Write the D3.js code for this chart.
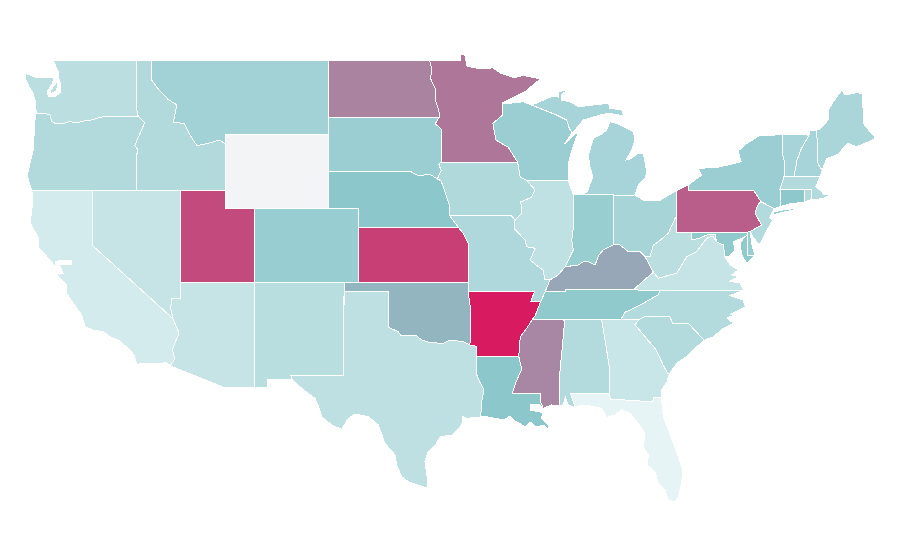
<!DOCTYPE html>
<html>
<head>
<meta charset="utf-8">
<script src="https://d3js.org/d3.v7.min.js"></script>
<style>
  body { margin: 0; background: #fff; }
  path { stroke: #fff; stroke-width: 1; shape-rendering: crispEdges; }
</style>
</head>
<body>
<svg id="map" width="900" height="560"></svg>
<script>
// State names and the value read off the colour of each one (null = no data)
var states = ["WA","OR","ID","MT","WY","CA","NV","UT","CO","AZ","NM","ND","SD","NE","KS","OK","TX","MN","IA","MO","AR","LA","WI","IL","MI","IN","OH","KY","TN","MS","AL","GA","FL","SC","NC","VA","WV","PA","NY","NJ","DE","MD","CT","RI","MA","VT","NH","ME"];
var values = [19,23,23,30,null,8.5,14.5,83.5,34,14.5,20,63.5,33,39.5,87.4,46,18,68,24,24.5,100,39,33,17,27.7,33.6,28,51,37,62,22.5,13.6,1,22.5,22.5,14.5,19,76.5,33,22.5,34,37,38,22.5,22.5,27.7,27.7,26];

var colorStops = [0, 40, 100];
var colorRange = ["#e8f5f6", "#8ac6ca", "#d81b60"];
var noDataColor = "#f3f4f6";

// Shared borders, [lon, lat]
var waOr = [[-123.82,46.15],[-123.2,46.15],[-122.85,46.05],[-122.78,45.72],[-122.45,45.57],[-122.05,45.58],[-121.55,45.7],[-121.1,45.62],[-120.6,45.73],[-120.1,45.78],[-119.5,45.92],[-119,46],[-116.92,46]];
var waId = [[-117.03,49],[-117.04,46.42],[-116.92,46]];
var orId = [[-116.92,46],[-116.47,45.65],[-116.85,44.95],[-117.15,44.4],[-116.95,44.2],[-117.03,43.8],[-117.03,42]];
var idMt = [[-116.05,49],[-116.05,48],[-115.6,47.5],[-114.9,46.9],[-114.3,46.6],[-114.55,45.65],[-113.8,45.6],[-113.4,44.95],[-112.95,44.4],[-112.3,44.5],[-111.4,44.7],[-111.05,44.5]];
var caNv = [[-120,42],[-120,39],[-114.57,35.05]];
var nvAz = [[-114.04,37],[-114.04,36.15],[-114.65,36.13],[-114.72,35.6],[-114.57,35.05]];
var caAz = [[-114.57,35.05],[-114.15,34.27],[-114.6,33.4],[-114.45,32.85],[-114.75,32.5]];
var redRiver = [[-100,34.58],[-99.34,34.34],[-99.18,34.16],[-98.6,34.14],[-98.1,34.11],[-97.76,33.89],[-97.2,33.75],[-96.3,33.71],[-95.85,33.89],[-94.95,33.8],[-94.5,33.62]];
var sabine = [[-94.04,33],[-94.04,32],[-93.82,31.6],[-93.55,31.2],[-93.7,30.6],[-93.73,30.1],[-93.82,29.73]];
var arTn = [[-89.7,36],[-89.95,35.5],[-90.1,35.2],[-90.3,34.98]];
var arMs = [[-90.3,34.98],[-90.6,34.6],[-91.1,34.05],[-91.2,33]];
var laMs = [[-91.2,33],[-91,32.3],[-91.4,31.6],[-91.65,31],[-89.75,31],[-89.75,30.6],[-89.55,30.2]];
var msAl = [[-88.2,34.98],[-88.1,34.9],[-88.45,31.9],[-88.42,30.35]];
var alGa = [[-85.6,34.98],[-85.4,34],[-85.05,32.3],[-85.1,31]];
var flGa = [[-85.1,31],[-85,30.7],[-82.2,30.55],[-82.05,30.8],[-81.65,30.8],[-81.55,30.65]];
var gaSc = [[-83.05,35],[-83.35,34.72],[-82.8,34.2],[-82.55,33.95],[-81.95,33.4],[-81.45,32.55],[-81.15,32.1],[-81,32.1]];
var ncSc = [[-83.05,35],[-82.7,35.15],[-81,35.15],[-80.8,34.8],[-79.75,34.8],[-78.68,33.88]];
var tnNc = [[-81.68,36.57],[-81.75,36.35],[-82.4,36.05],[-83.2,35.7],[-84,35.4],[-84.32,34.98]];
var illKy = [[-89.09,37.14],[-88.53,37.41],[-88.07,37.85]];
var inKy = [[-88.07,37.85],[-87.18,37.95],[-86.86,38.11],[-86.5,38.12],[-86.05,37.95],[-85.78,38.49],[-85.49,38.76],[-84.82,39.03]];
var ohKy = [[-84.82,39.03],[-84.36,39.03],[-83.8,38.67],[-83.01,38.67],[-82.67,38.4]];
var ohWv = [[-80.52,40.64],[-80.65,40.45],[-81.1,39.66],[-81.77,39.2],[-82.11,39.02],[-82.33,38.4],[-82.67,38.4]];
var kyVa = [[-83.46,36.6],[-82.9,37],[-82.11,37.56]];
var kyWv = [[-82.11,37.56],[-82.67,38.4]];
var vaWv = [[-82.11,37.56],[-81.77,37.23],[-80.53,37.5],[-79.85,38.39],[-79.18,38.66],[-78.5,39.39],[-78.28,39.46],[-78.06,39.46],[-77.83,39.2]];
var mdVa = [[-77.83,39.2],[-77.38,39.03],[-77.27,38.4]];
var wabash = [[-87.53,41.76],[-87.53,39.9],[-87.62,39.29],[-87.52,38.76],[-87.74,38.4],[-88.07,37.85]];
var ilMo = [[-89.09,37.14],[-89.43,37.14],[-89.55,37.66],[-90.43,38.2],[-90.1,38.85],[-90.66,38.93],[-90.78,39.3],[-91.52,39.93],[-91.45,40.38]];
var ilIa = [[-91.45,40.38],[-91.05,40.7],[-91,41.1],[-91.1,41.35],[-90.35,41.6],[-90.1,42],[-90.64,42.5]];
var neSd = [[-104.05,43],[-98.5,43],[-98,42.77],[-97.2,42.85],[-96.7,42.6],[-96.45,42.49]];
var neIa = [[-96.45,42.49],[-96.1,41.7],[-95.9,41.2],[-95.85,40.6]];
var sdMn = [[-96.56,45.94],[-96.85,45.58],[-96.45,45.3],[-96.45,43.5]];
var sdIa = [[-96.45,43.5],[-96.6,43.4],[-96.45,43.05],[-96.7,42.6],[-96.45,42.49]];
var ndMn = [[-97.23,49],[-97.1,48.6],[-97.15,48],[-96.85,47.5],[-96.85,46.9],[-96.6,46.3],[-96.56,45.94]];
var wiMn = [[-92.3,46.7],[-92.3,46.05],[-92.95,45.6],[-92.75,44.7],[-91.9,44.3],[-91.28,43.5]];
var miWi = [[-90.33,46.59],[-88.64,46.05],[-87.96,45.78],[-87.79,45.34],[-87.6,45.1]];
var paNj = [[-75.57,39.75],[-74.8,40.11],[-75.24,40.75],[-75.04,41.2],[-74.84,41.37]];

function rev(a) { return a.slice().reverse(); }

// One list of rings per state, same order as `states`
var outlines = [
  // WA, with Kitsap as its own ring
  [[[-122.65,49]].concat(waId, rev(waOr), [[-123.82,46.32],[-123.89,46.86],[-124.02,47.24],[-124.29,47.57],[-124.5,47.95],[-124.56,48.32],[-123.89,48.11],[-123.55,48.05],[-123.08,48.11],[-122.6,48.05],[-122.74,47.73],[-123.04,47.35],[-122.99,47.03],[-122.54,47.03],[-122.15,47.3],[-122.2,47.84],[-122.33,48.16],[-122.31,48.38]]),
   [[-122.47,47.95],[-122.34,47.68],[-122.47,47.35],[-122.87,47.19],[-122.87,47.35],[-122.54,47.68]]],
  [waOr.concat(orId, [[-124.11,42],[-124.29,42.43],[-124.41,42.81],[-124.22,43.46],[-124.02,44.1],[-123.95,44.97],[-123.89,45.78]])],
  [[[-117.03,49]].concat(idMt, [[-111.05,42],[-117.03,42]], rev(orId), rev(waId))],
  [[[-116.05,49],[-104.05,49],[-104.05,45],[-111.05,45],[-111.05,44.5]].concat(rev(idMt))],
  [[[-111.05,45],[-104.05,45],[-104.05,41],[-111.05,41]]],
  [caNv.concat(caAz, [[-114.99,32.66],[-115.67,32.63],[-117.02,32.59],[-117.2,33.08],[-117.58,33.44],[-118.26,33.89],[-118.82,34.07],[-119.27,34.34],[-119.95,34.43],[-120.51,34.61],[-120.73,35.24],[-121.3,35.88],[-121.75,36.42],[-121.75,36.87],[-122.33,37.35],[-122.47,37.78],[-122.25,37.45],[-122,37.5],[-122.25,38],[-121.41,38],[-121.41,38.18],[-122.47,38.16],[-122.55,37.9],[-123,38.32],[-123.66,38.92],[-123.68,39.46],[-124.02,39.95],[-124.22,40.22],[-124.02,41.46],[-124.11,42]])],
  [[[-120,42],[-114.04,42]].concat(nvAz, rev(caNv))],
  [[[-114.04,42],[-111.05,42],[-111.05,41],[-109.05,41],[-109.05,37],[-114.04,37]]],
  [[[-109.05,41],[-102.05,41],[-102.05,37],[-109.05,37]]],
  [[[-114.04,37],[-109.05,37],[-109.05,31.33],[-111.1,31.33]].concat(rev(caAz), rev(nvAz))],
  [[[-109.05,37],[-103,37],[-103.05,32],[-106.6,32],[-106.53,31.78],[-108.2,31.78],[-108.2,31.33],[-109.05,31.33]]],
  [[[-104.05,49]].concat(ndMn, [[-104.05,45.94]])],
  [[[-104.05,45.94]].concat(sdMn, sdIa, rev(neSd))],
  [neSd.concat(neIa, [[-95.3,40],[-102.05,40],[-102.05,41],[-104.05,41]])],
  [[[-102.05,40],[-95.3,40],[-94.95,39.66],[-94.62,39.1],[-94.62,37],[-102.05,37]]],
  [[[-103,37],[-94.62,37],[-94.62,36.5],[-94.43,35.4]].concat(rev(redRiver), [[-100,36.5],[-103,36.5]])],
  [[[-103,36.5],[-100,36.5]].concat(redRiver, [[-94.04,33.55]], sabine, [[-94.72,29.66],[-94.97,29.75],[-95.06,29.3],[-95.65,28.76],[-96.52,28.66],[-96.75,28.32],[-97.33,27.85],[-97.54,27.31],[-97.42,26.7],[-97.33,25.88],[-98.66,26.23],[-99.11,26.5],[-99.45,27.13],[-99.56,27.68],[-100.24,28.31],[-100.69,29.3],[-101.37,29.75],[-102.27,29.89],[-102.72,29.66],[-103.16,29.06],[-103.84,29.3],[-104.52,29.75],[-104.68,30.2],[-104.97,30.74],[-105.87,31.28],[-106.53,31.78],[-106.6,32],[-103.05,32]])],
  [[[-95.15,49],[-95.15,49.35],[-94.85,49.33],[-94.7,48.7],[-93.8,48.55],[-92.95,48.6],[-92.4,48.3],[-91.5,48.07],[-90.9,48.2],[-89.75,48],[-90.8,47.3]].concat(wiMn, [[-96.45,43.5]], rev(sdMn), rev(ndMn))],
  [[[-96.45,43.5],[-91.28,43.5],[-91.1,42.7]].concat(rev(ilIa), [[-91.7,40.6]], rev(neIa), rev(sdIa))],
  [[[-95.85,40.6],[-91.7,40.6]].concat(rev(ilMo), [[-89.42,36.5],[-89.7,36],[-90.37,36],[-90.15,36.5],[-94.62,36.5],[-94.62,39.1],[-94.95,39.66],[-95.3,40]])],
  [[[-94.62,36.5],[-90.15,36.5],[-90.37,36]].concat(arTn, arMs, [[-94.04,33],[-94.04,33.55],[-94.5,33.62],[-94.43,35.4]])],
  [[[-94.04,33]].concat(laMs, [[-89.75,30.38],[-90.43,30.38],[-90.43,30.1],[-89.77,30],[-89.54,29.93],[-89.7,29.68],[-89.2,29.3],[-89.2,29.03],[-89.5,29.3],[-90.04,29.19],[-90.38,29.46],[-90.78,29.21],[-91.57,29.57],[-91.79,29.78],[-92.24,29.57],[-93.4,29.75]], rev(sabine))],
  [[[-92.3,46.7],[-91.7,46.7],[-90.89,46.77]].concat(miWi, [[-88.1,44.5],[-87.15,45.2],[-87.65,44.07],[-87.85,43.44],[-87.85,42.5],[-90.64,42.5],[-91.1,42.7]], rev(wiMn))],
  [[[-90.64,42.5],[-87.85,42.5]].concat(wabash, rev(illKy), ilMo, ilIa)],
  [rev(miWi).concat([[-88.89,47.08],[-88.55,47.03],[-88.55,47.31],[-87.87,47.41],[-88.3,47.19],[-88.28,46.86],[-87.74,46.77],[-87.18,46.5],[-85.15,46.69],[-85.04,46.42],[-84.25,46.32],[-84.14,46.05],[-83.68,45.96],[-85.15,46.15],[-85.71,46.05],[-86.84,45.78],[-87.4,45.24]]),
   [[-86.9,41.76],[-86.57,41.9],[-86.2,42.72],[-86.39,43.26],[-86.5,43.89],[-86.16,44.79],[-85.71,44.97],[-85.26,45.24],[-85.04,45.69],[-84.58,45.6],[-83.46,45.15],[-83.35,44.7],[-83.57,44.16],[-83.95,43.62],[-83.57,43.71],[-83.23,43.95],[-82.78,43.98],[-82.55,42.99],[-82.67,42.63],[-83.12,42.27],[-83.35,41.73],[-84.82,41.7],[-84.82,41.76]]],
  [[[-87.53,41.76],[-84.82,41.76]].concat(rev(inKy), rev(wabash))],
  [[[-84.82,41.7],[-83.35,41.73],[-82.8,41.45],[-81.65,41.45],[-80.52,41.98]].concat(ohWv, rev(ohKy))],
  [[[-89.42,36.5],[-88.05,36.5],[-88.05,36.62]].concat(kyVa, kyWv.slice(1), rev(ohKy), rev(inKy), rev(illKy))],
  [[[-89.42,36.5],[-88.05,36.5],[-88.05,36.62],[-83.46,36.6]].concat(tnNc, [[-85.6,34.98],[-88.2,34.98]], rev(arTn))],
  [[[-90.3,34.98]].concat(msAl, [[-89,30.38]], rev(laMs), rev(arMs))],
  [alGa.concat([[-87.7,31],[-87.4,30.29],[-87.85,30.35],[-88.05,30.8],[-88.2,30.4]], rev(msAl))],
  [[[-85.6,34.98]].concat(gaSc, [[-81.2,31.6],[-81.55,31.19]], rev(flGa), rev(alGa))],
  [flGa.concat([[-81.44,29.75],[-81,28.85],[-80.42,27.58],[-80.12,26.87],[-80.19,26.15],[-80.42,25.42],[-80.64,25.15],[-81.1,25.24],[-81.32,25.78],[-81.77,26.15],[-82,26.77],[-82.52,27.13],[-82.45,27.68],[-82.79,28.12],[-82.67,28.85],[-83.12,29.39],[-83.69,29.93],[-84.25,30.11],[-84.7,29.84],[-85.26,29.71],[-85.6,30.2],[-86.73,30.38],[-87.4,30.29],[-87.7,31]])],
  [ncSc.concat([[-79.29,33.44],[-79.85,33],[-80.53,32.63]], rev(gaSc))],
  [[[-81.68,36.57],[-76.14,36.54],[-76.93,36.3],[-76.03,36.05],[-75.9,35.69],[-76.93,35.25],[-76.4,35.32],[-77.15,35.08],[-76.7,34.8],[-77.38,34.52],[-78.05,34.07]].concat(rev(ncSc), [[-84.32,34.98]], rev(tnNc))],
  [kyVa.concat(vaWv.slice(1), mdVa.slice(1), [[-76.93,37.95],[-76.37,37.68],[-76.81,37.41],[-76.37,37.31],[-76.93,37.07],[-76.25,36.97],[-76.02,36.6],[-76.14,36.54],[-81.68,36.57]])],
  [[[-80.52,40.64],[-80.52,39.72],[-79.52,39.72],[-79.52,39.3],[-78.96,39.4],[-78.41,39.6],[-77.94,39.6]].concat(rev(vaWv), kyWv.slice(1), rev(ohWv).slice(1))],
  [[[-80.52,41.98],[-80.52,39.72],[-75.76,39.72]].concat(paNj, [[-75.35,42],[-79.76,42],[-79.76,42.27]])],
  [[[-79.76,42.27],[-79.76,42],[-75.35,42],[-74.84,41.37],[-73.95,41],[-73.55,41.1],[-73.55,42.04],[-73.27,42.75],[-73.25,43.55],[-73.4,44],[-73.35,45],[-74.97,44.92],[-75.77,44.53],[-76.37,44.12],[-76.18,43.53],[-77.72,43.23],[-79.07,43.17],[-78.84,42.81]],
   [[-74.11,40.65],[-72.2,41.01],[-73.21,40.95],[-73.95,40.81]]],
  [paNj.concat([[-73.95,41],[-74.11,40.7],[-74.25,40.5],[-74.05,40.4],[-74.22,40.12],[-74.7,39.41],[-74.95,39.03],[-75.37,39.47]])],
  [[[-75.76,39.72],[-75.57,39.75],[-75.44,39.03],[-75.25,38.48],[-75.72,38.48]]],
  [[[-79.52,39.72],[-75.76,39.72],[-75.72,38.48],[-75.25,38.48],[-75.8,38.04],[-76.14,38.49],[-76.25,39.12],[-75.91,39.48],[-76.7,39.2],[-76.59,38.76],[-77.05,38.4]].concat(rev(mdVa), [[-77.94,39.6],[-78.41,39.6],[-78.96,39.4],[-79.52,39.3]])],
  [[[-73.55,42.04],[-71.91,42.04],[-71.91,41.34],[-72.9,41.25],[-73.55,41.1]]],
  [[[-71.91,42.04],[-71.45,42.04],[-71.4,41.5],[-71.91,41.34]]],
  [[[-73.55,42.04],[-73.27,42.75],[-72.6,42.73],[-71.3,42.72],[-70.85,42.72],[-71.12,42.18],[-70.73,41.91],[-70.62,41.73],[-70.17,41.73],[-70.62,41.55],[-71.3,41.46],[-71.4,41.5],[-71.45,42.04],[-71.91,42.04]]],
  [[[-73.27,42.75],[-73.25,43.55],[-73.4,44],[-73.35,45],[-71.6,44.97],[-71.64,44.88],[-72.1,44.25],[-72.4,43.62],[-72.6,42.73]]],
  [[[-72.6,42.73],[-72.4,43.62],[-72.1,44.25],[-71.64,44.88],[-71.6,44.97],[-71.5,45.24],[-71.07,45.24],[-70.98,43.4],[-70.7,43.07],[-70.85,42.72],[-71.3,42.72]]],
  [[[-71.07,45.24],[-70.85,45.28],[-70.3,45.78],[-70.3,46.32],[-69.95,46.77],[-69.38,47.4],[-69.16,47.13],[-68.37,47.26],[-67.96,47.22],[-67.92,45.6],[-67.47,45.15],[-67.07,44.79],[-67.58,44.61],[-68.37,44.34],[-68.94,44.52],[-69.7,43.9],[-70.4,43.7],[-70.7,43.07],[-70.98,43.4]]]
];

var x = d3.scaleLinear().domain([-111.05, -104.05]).range([225, 328.6]);
var y = d3.scaleLinear().domain([49, 41]).range([60.5, 208.5]);
var color = d3.scaleLinear().domain(colorStops).range(colorRange);

var path = d3.geoPath().projection(d3.geoTransform({
  point: function(lon, lat) { this.stream.point(x(lon), y(lat)); }
}));

var features = states.map(function(s, i) {
  return {
    type: "Feature",
    properties: { name: s, value: values[i] },
    geometry: { type: "MultiPolygon", coordinates: outlines[i].map(function(r) { return [r.concat([r[0]])]; }) }
  };
});

d3.select("#map").selectAll("path")
  .data(features)
  .enter().append("path")
  .attr("d", path)
  .attr("fill", function(d) { return d.properties.value === null ? noDataColor : color(d.properties.value); });
</script>
</body>
</html>
